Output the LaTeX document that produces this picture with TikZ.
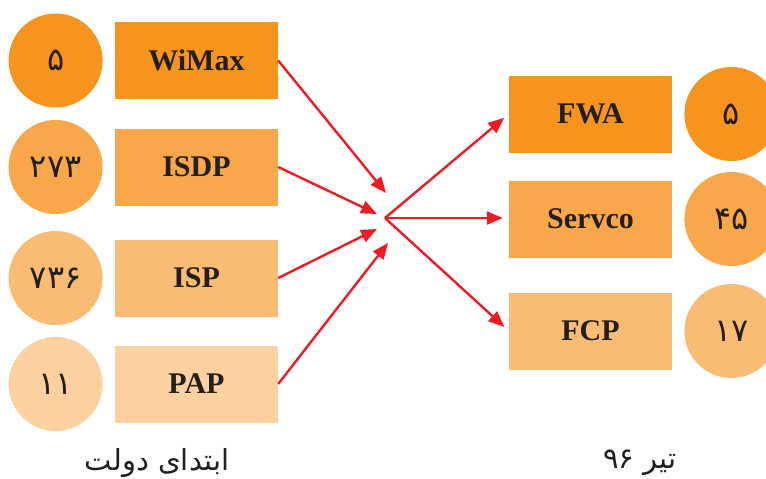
\documentclass[tikz,border=0pt]{standalone}
\usepackage{fontspec}
\setmainfont{Liberation Serif}
\newfontfamily\arabicfont[Script=Arabic]{DejaVu Sans}
\TeXXeTstate=1
\usetikzlibrary{arrows.meta, positioning}
\definecolor{cOrangeA}{RGB}{247,148,30}
\definecolor{cOrangeB}{RGB}{249,167,75}
\definecolor{cOrangeC}{RGB}{250,187,116}
\definecolor{cOrangeD}{RGB}{253,208,159}
\definecolor{cArrow}{RGB}{237,28,36}
\definecolor{cText}{RGB}{35,31,32}
\tikzset{
	block/.style    ={rectangle, minimum width=163pt, minimum height=77pt, inner sep=0pt, text=cText, font=\fontsize{30}{36}\selectfont\bfseries},
	count/.style    ={circle, minimum size=94pt, inner sep=0pt, text=cText, font=\arabicfont\fontsize{32}{36}\selectfont},
	caption/.style  ={text=cText, font=\arabicfont\fontsize{29}{34}\selectfont},
	flowarrow/.style={-{Triangle[length=16pt, width=13pt]}, line width=2.4pt, draw=cArrow},
}

\begin{document}
\begin{tikzpicture}[x=1pt, y=-1pt]
	\clip (0,0) rectangle (766,479);
	% left column: before
	\node[block, fill=cOrangeA] (wimax) at (196.5,60.5) {WiMax};
	\node[block, fill=cOrangeB] (isdp) at (196.5,167) {ISDP};
	\node[block, fill=cOrangeC] (isp) at (196.5,278) {ISP};
	\node[block, fill=cOrangeD] (pap) at (196.5,384) {PAP};
	\node[count, fill=cOrangeA, left=12pt of wimax] (nwimax){۵};
	\node[count, fill=cOrangeB, left=12pt of isdp] (nisdp){۲۷۳};
	\node[count, fill=cOrangeC, left=12pt of isp] (nisp){۷۳۶};
	\node[count, fill=cOrangeD, left=12pt of pap] (npap){۱۱};
	% right column: after
	\node[block, fill=cOrangeA] (fwa) at (590.5,114) {FWA};
	\node[block, fill=cOrangeB] (servco) at (590.5,219) {Servco};
	\node[block, fill=cOrangeC] (fcp) at (590.5,331) {FCP};
	\node[count, fill=cOrangeA, right=12pt of fwa] (nfwa){۵};
	\node[count, fill=cOrangeB, right=12pt of servco] (nservco){۴۵};
	\node[count, fill=cOrangeC, right=12pt of fcp] (nfcp){۱۷};
	% captions
	\node[caption] (before) at (157,463) {\beginR ابتدای دولت\endR};
	\node[caption] (after) at (640,463) {\beginR تیر \beginL۹۶\endL\endR};
	% arrows
	\coordinate (hub) at (385,218);
	\coordinate (t1) at (386,193); \coordinate (t2) at (377,214);
	\coordinate (t3) at (377,229); \coordinate (t4) at (388,243);
	\draw[flowarrow](wimax.east)--(t1); \draw[flowarrow](isdp.east)--(t2);
	\draw[flowarrow](isp.east)--(t3); \draw[flowarrow](pap.east)--(t4);
	\draw[flowarrow, shorten >=6pt](hub)--(fwa.west);
	\draw[flowarrow, shorten >=6pt](hub)--(hub -| servco.west);
	\draw[flowarrow, shorten >=6pt](hub)--(fcp.west);
\end{tikzpicture}
\end{document}
